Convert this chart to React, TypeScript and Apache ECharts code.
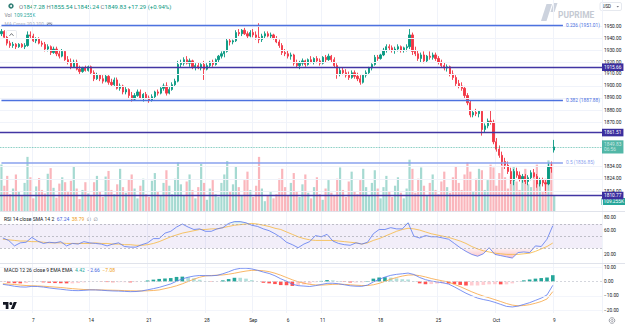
import React, { useEffect, useRef } from 'react';
import * as echarts from 'echarts';

// ---------------- data ----------------
const OPEN = [1944,1946,1941,1936,1934,1935,1933,1935,1933,1934,1943,
1942,1938,1940,1936, 1935,1931,1933,1928, 1931,1927,1925,1929, 1922,1920,1916,1920, 1914,1912,1915,1913,
1916,1911,1906,1909, 1906,1904,1908,1903, 1901,1905,1898,1900, 1895,1897,1892,1889, 1892,1895,1890,1893,
1890,1888,1891,1895, 1894,1898,1900,1894, 1897,1901,1904,1918, 1919,1922,1919,1921, 1916,1917,1915,1918,
1914,1917,1920,1918, 1922,1925,1927,1929, 1938,1937,1938,1945, 1944,1947,1944,1942, 1945,1943,1941,1939,
1942,1944,1942,1943, 1940,1937,1934,1928, 1927,1925,1926,1919, 1917,1919,1921,1918, 1922,1920,1923,1921,
1919,1924,1922,1925, 1922,1917,1910,1913, 1911,1909,1907,1911, 1908,1906,1903,1909, 1911,1915,1918,1924,
1923,1926,1930,1933, 1932,1930,1931,1933, 1930,1932,1933,1943, 1929,1927,1923,1926, 1921,1925,1924,1926,
1923,1920,1917,1915, 1916,1910,1907,1902, 1900,1898,1892,1886, 1876,1878,1877,1879, 1864,1867,1871,1870,
1854,1848,1843,1838, 1835,1830,1823,1830, 1827,1824,1826,1822, 1825,1829,1826,1820, 1823,1821,1820,1834,
1847.28];
const HIGH = [1948,1947,1942,1938,1937,1936,1936,1936,1936,1946,1946,
1944,1941,1941,1938, 1937,1935,1934,1933, 1933,1930,1931,1930, 1925,1923,1922,1922, 1917,1916,1917,1917,
1917,1913,1911,1910, 1909,1910,1909,1906, 1907,1907,1902,1901, 1899,1898,1895,1894, 1897,1897,1894,1895,
1892,1893,1896,1897, 1899,1902,1903,1899, 1903,1906,1921,1922, 1924,1925,1923,1922, 1919,1920,1919,1921,
1919,1921,1922,1923, 1926,1929,1930,1940, 1940,1939,1947,1948, 1948,1949,1946,1947, 1948,1946,1953,1944,
1946,1946,1945,1944, 1942,1939,1936,1931, 1930,1928,1927,1922, 1921,1923,1922,1923, 1925,1924,1925,1923,
1925,1926,1927,1926, 1924,1919,1915,1915, 1914,1912,1913,1913, 1911,1909,1910,1913, 1916,1919,1926,1926,
1927,1932,1935,1935, 1934,1933,1935,1934, 1933,1935,1948,1945, 1933,1930,1928,1929, 1926,1929,1928,1928,
1925,1922,1920,1918, 1917,1913,1909,1905, 1903,1900,1894,1888, 1880,1881,1880,1880, 1869,1873,1880,1872,
1857,1851,1846,1841, 1838,1833,1832,1833, 1830,1828,1828,1827, 1831,1832,1828,1825, 1825,1824,1837,1838,
1855.54];
const LOW = [1942,1940,1934,1932,1932,1931,1932,1932,1931,1933,1940,
1937,1936,1935,1933, 1929,1929,1926,1927, 1925,1923,1924,1921, 1918,1914,1915,1913, 1910,1911,1912,1912,
1910,1904,1905,1904, 1902,1903,1901,1900, 1900,1897,1896,1893, 1893,1890,1887,1888, 1891,1889,1887,1889,
1886,1887,1889,1892, 1893,1896,1892,1893, 1896,1900,1903,1915, 1917,1918,1916,1914, 1913,1914,1913,1905,
1913,1915,1916,1917, 1920,1923,1924,1928, 1934,1935,1937,1942, 1942,1943,1940,1941, 1941,1939,1936,1937,
1940,1941,1940,1939, 1936,1932,1926,1925, 1923,1922,1917,1915, 1914,1917,1916,1917, 1919,1918,1919,1917,
1918,1920,1921,1920, 1915,1906,1908,1909, 1907,1905,1906,1906, 1904,1901,1902,1907, 1910,1913,1917,1921,
1922,1925,1928,1930, 1928,1927,1929,1928, 1928,1929,1931,1926, 1925,1921,1920,1919, 1920,1922,1922,1921,
1918,1915,1913,1912, 1908,1905,1900,1898, 1896,1890,1884,1874, 1874,1875,1874,1859, 1862,1865,1868,1852,
1846,1841,1835,1832, 1828,1820,1819,1825, 1822,1821,1820,1819, 1823,1825,1817,1818, 1818,1813,1819,1829,
1845.24];
const CLOSE = [1946,1941,1936,1934,1935,1933,1935,1933,1934,1943,1942,
1938,1940,1936,1935, 1931,1933,1928,1931, 1927,1925,1929,1922, 1920,1916,1920,1914, 1912,1915,1913,1916,
1911,1906,1909,1906, 1904,1908,1903,1901, 1905,1898,1900,1895, 1897,1892,1889,1892, 1895,1890,1893,1890,
1888,1891,1895,1894, 1898,1900,1894,1897, 1901,1904,1918,1919, 1922,1919,1921,1916, 1917,1915,1918,1914,
1917,1920,1918,1922, 1925,1927,1929,1938, 1937,1938,1945,1944, 1947,1944,1942,1945, 1943,1941,1939,1942,
1944,1942,1943,1940, 1937,1934,1928,1927, 1925,1926,1919,1917, 1919,1921,1918,1922, 1920,1923,1921,1919,
1924,1922,1925,1922, 1917,1910,1913,1911, 1909,1907,1911,1908, 1906,1903,1909,1911, 1915,1918,1924,1923,
1926,1930,1933,1932, 1930,1931,1933,1930, 1932,1933,1943,1929, 1927,1923,1926,1921, 1925,1924,1926,1923,
1920,1917,1915,1916, 1910,1907,1902,1900, 1898,1892,1886,1876, 1878,1877,1879,1864, 1867,1871,1870,1854,
1848,1843,1838,1835, 1830,1823,1830,1827, 1824,1826,1822,1825, 1829,1826,1820,1823, 1821,1820,1834,1832.54,
1849.83];
const VOLUME_K = [330,180,250,120,160,260,140,110,200,385,240,
90,175,235,150, 125,265,305,165, 95,195,240,205, 135,215,315,160, 85,150,205,125,
110,205,250,140, 100,245,285,150, 120,190,300,170, 130,225,260,160, 90,180,230,120,
100,215,270,140, 110,200,290,180, 120,230,345,190, 110,210,260,150, 90,170,335,200,
80,160,220,120, 100,200,260,355, 140,190,320,170, 110,220,280,150, 100,180,385,160,
70,110,140,90, 120,230,300,170, 110,200,270,140, 100,190,260,130, 90,170,240,120,
80,160,220,130, 110,230,310,150, 100,210,280,140, 120,220,300,170, 110,200,290,160,
90,170,250,140, 100,180,240,130, 90,160,365,300, 130,230,310,180, 110,200,260,150,
120,210,280,170, 130,240,320,200, 150,260,345,280, 140,230,300,290, 150,220,330,310,
180,270,355,240, 160,250,320,210, 150,240,300,190, 170,260,330,200, 140,230,360,340,
109.255];
// indicators: one reading per two candles
const RSI = [47,43,34,39,40,48,42,38,40,39, 41,34,38,37,41,39,38,37,34,37,
39,33,32,32,36,39,46,46,55,58, 65,70,65,61,62,58,58,62,64,71,
74,74,72,68,66,62,59,54,48,40, 36,31,37,41,51,49,53,42,38,36,
35,39,37,40,54,61,61,64,62,62, 72,50,47,51,49,49,47,45,38,31,
25,20,17,21,31,20,18,16,14,23, 24,23,34,33,45,67.24];
const RSI_SMA = [45,44,43,42,42,41,41,40,39,39, 39,38,38,38,38,38,39,38,38,37,
37,36,36,35,35,36,38,41,45,49, 52,55,57,59,61,61,62,62,64,66,
68,69,70,71,70,68,66,63,61,57, 53,49,46,44,43,43,43,43,42,41,
40,39,37,39,43,46,50,54,58,61, 63,62,60,57,54,52,50,48,45,42,
38,33,29,26,24,22,21,20,20,20, 21,22,25,29,33,38.79];
const MACD_LINE = [-2.0,-2.6,-3.3,-3.8,-3.9,-3.4,-3.5,-3.9,-4.5,-5.0,
-5.4,-5.9,-6.3,-6.4,-6.2,-5.9,-5.9,-6.1,-6.4,-6.6,
-6.7,-6.9,-7.1,-7.0,-6.6,-5.8,-5.0,-4.1,-2.9,-1.7,
0.2,1.8,3.0,3.8,4.2,4.1,4.0,4.3,5.4,6.8,
8.4,9.2,9.3,8.8,7.8,6.6,5.6,4.0,1.9,0.2,
-1.9,-2.9,-3.2,-3.5,-2.9,-2.1,-1.3,-1.2,-1.6,-2.3,
-3.0,-3.3,-3.4,-2.5,-0.3,1.5,3.1,4.3,5.0,5.4,
5.9,4.9,2.8,1.3,0.3,-0.3,-0.9,-1.8,-3.8,-6.0,
-8.2,-10.0,-11.6,-12.6,-13.4,-14.6,-16.0,-17.4,-17.8,-17.2,
-16.0,-14.8,-13.2,-11.6,-9.4,-2.66];
const SIGNAL_LINE = [-1.6,-1.8,-2.1,-2.5,-2.8,-3.0,-3.1,-3.3,-3.6,-3.9,
-4.2,-4.6,-5.0,-5.3,-5.6,-5.7,-5.8,-5.9,-6.0,-6.1,
-6.2,-6.4,-6.5,-6.6,-6.6,-6.5,-6.3,-5.9,-5.0,-4.1,
-3.0,-1.6,0.0,1.6,3.0,3.9,4.2,4.4,4.6,5.1,
5.8,6.6,7.3,7.8,7.8,7.5,6.9,5.8,4.4,2.8,
1.2,-0.2,-1.2,-2.0,-2.4,-2.5,-2.3,-2.0,-1.9,-2.0,
-2.3,-2.6,-2.8,-2.8,-2.3,-1.3,0.1,1.6,2.8,3.8,
4.5,4.6,4.1,3.2,2.1,1.2,0.4,-0.4,-2.0,-3.6,
-5.4,-7.2,-8.8,-10.2,-11.4,-12.7,-14.0,-15.4,-16.5,-17.0,
-16.8,-16.2,-15.2,-14.0,-12.2,-7.08];

const PRICE_TICKS = [1950, 1940, 1930, 1920, 1910, 1900, 1890, 1880, 1870, 1834, 1824, 1814];
const RSI_TICKS = [80, 60, 20];
const MACD_TICKS = [10, 0, -10, -20];
const DATE_INDEX = [11, 31, 51, 71, 87, 99, 111, 131, 151, 171, 191];
const DATE_LABELS = ['7', '14', '21', '28', 'Sep', '6', '11', '18', '25', 'Oct', '9'];
const FIB_RATIOS = ['0.236', '0.382', '0.5'];
const FIB_PRICES = [1951.01, 1887.88, 1836.85];
const LEVELS = [1915.66, 1861.51, 1810.77];
const COUNTDOWN = '06:56';

// ---------------- layout / style ----------------
const SLOTS = 208;
const IND_SLOTS = 104;
const PLOT_W = 602;
const FIB_END = 194;
const FONT = 'Roboto, "Noto Sans", "DejaVu Sans", sans-serif';
const UP = '#089981';
const DOWN = '#f23645';
const TXT = '#131722';
const GRIDC = '#f0f3fa';
const AX = 4.8;

const minus = (s: string) => s.replace('-', '\u2212');
const f2 = (v: number) => minus(v.toFixed(2));

function boxLabel(text: string, bg: string, color = '#fff') {
  return {
    show: true, position: 'end', formatter: text, backgroundColor: bg, color,
    padding: [1, 2], fontSize: AX, lineHeight: 5.6, distance: 0, fontFamily: FONT,
  };
}

function buildOption() {
  const n = CLOSE.length;
  const last = n - 1;
  const cats = Array.from({ length: SLOTS }, (_, i) => 'c' + i);
  const indCats = Array.from({ length: IND_SLOTS }, (_, i) => 'k' + i);
  const isDate = (i: number) => DATE_INDEX.indexOf(i) >= 0;
  const candle = OPEN.map((o, i) => [o, CLOSE[i], LOW[i], HIGH[i]]);
  const vol = VOLUME_K.map((v, i) => ({
    value: v,
    itemStyle: { color: CLOSE[i] >= OPEN[i] ? 'rgba(8,153,129,0.36)' : 'rgba(242,54,69,0.36)' },
  }));
  const hist = MACD_LINE.map((m, i) => +(m - SIGNAL_LINE[i]).toFixed(2));
  const histData = hist.map((h, i) => {
    const p = i > 0 ? hist[i - 1] : h;
    const c = h >= 0 ? (h > p ? '#26a69a' : '#b2dfdb') : (h < p ? '#ff5252' : '#ffcdd2');
    return { value: h, itemStyle: { color: c } };
  });
  const rl = RSI.length - 1;
  const chg = CLOSE[last] - CLOSE[last - 1];
  const pct = (chg / CLOSE[last - 1]) * 100;
  const sg = chg >= 0 ? '+' : '\u2212';

  const vSplit = { show: true, interval: (i: number) => isDate(i), lineStyle: { color: GRIDC, width: 1 } };

  const fibLines = FIB_PRICES.map((p, j) => {
    const col = j === 2 ? '#8aa2ee' : '#4d72df';
    return [
      {
        coord: [0, p],
        lineStyle: { color: col, width: j === 2 ? 1.7 : 1.3, type: 'solid' },
        label: { show: true, position: 'end', formatter: `${FIB_RATIOS[j]} (${p.toFixed(2)})`, color: col, fontSize: AX, distance: 3, fontFamily: FONT },
      },
      { coord: [FIB_END, p] },
    ];
  });
  const levelLines = LEVELS.map((p) => ({
    yAxis: p,
    lineStyle: { color: '#4235a3', width: 1.4, type: 'solid' },
    label: boxLabel(p.toFixed(2), '#3b2e9e'),
  }));

  const hidden = { show: false };

  return {
    animation: false,
    backgroundColor: '#ffffff',
    textStyle: { fontFamily: FONT },
    grid: [
      { left: 0, top: 0, width: PLOT_W, height: 211.04, outerBoundsMode: 'none' },
      { left: 0, top: 205.8, width: PLOT_W, height: 60.75, outerBoundsMode: 'none' },
      { left: 0, top: 252.9, width: PLOT_W, height: 71.5, outerBoundsMode: 'none' },
      { left: 0, top: 212, width: PLOT_W, height: 51, outerBoundsMode: 'none' },
      { left: 0, top: 264, width: PLOT_W, height: 49, outerBoundsMode: 'none' },
    ],
    xAxis: [
      { gridIndex: 0, type: 'category', data: cats, axisLine: hidden, axisTick: hidden, axisLabel: hidden, splitLine: vSplit },
      { gridIndex: 1, type: 'category', data: indCats, show: false },
      { gridIndex: 2, type: 'category', data: indCats, show: false },
      { gridIndex: 3, type: 'category', data: cats, axisLine: hidden, axisTick: hidden, axisLabel: hidden, splitLine: vSplit },
      {
        gridIndex: 4, type: 'category', data: cats, position: 'bottom', axisLine: hidden, axisTick: hidden, splitLine: vSplit,
        axisLabel: {
          show: true, interval: (i: number) => isDate(i), margin: 5, fontSize: AX, color: TXT, fontFamily: FONT,
          formatter: (_v: string, i: number) => { const j = DATE_INDEX.indexOf(i); return j >= 0 ? DATE_LABELS[j] : ''; },
        },
      },
    ],
    yAxis: [
      { gridIndex: 0, type: 'log', logBase: 10, min: 1798.5, max: 1973, show: false },
      { gridIndex: 0, type: 'value', min: 0, max: 1500, show: false },
      {
        gridIndex: 1, type: 'value', min: 0, max: 100, interval: 20, position: 'right',
        axisLine: hidden, axisTick: hidden, splitLine: hidden,
        axisLabel: { margin: 2, fontSize: AX, color: TXT, fontFamily: FONT, formatter: (v: number) => (RSI_TICKS.indexOf(v) >= 0 ? v.toFixed(2) : '') },
      },
      {
        gridIndex: 2, type: 'value', min: -30, max: 20, interval: 10, position: 'right',
        axisLine: hidden, axisTick: hidden, splitLine: hidden,
        axisLabel: { margin: 2, fontSize: AX, color: TXT, fontFamily: FONT, formatter: (v: number) => (MACD_TICKS.indexOf(v) >= 0 ? f2(v) : '') },
      },
      { gridIndex: 3, type: 'value', show: false },
      { gridIndex: 4, type: 'value', show: false },
    ],
    series: [
      {
        type: 'line', xAxisIndex: 0, yAxisIndex: 0, data: [], z: 0, silent: true,
        markLine: {
          symbol: ['none', 'none'], silent: true, animation: false,
          data: PRICE_TICKS.map((p) => ({
            yAxis: p,
            lineStyle: { color: GRIDC, width: 1, type: 'solid' },
            label: { show: true, position: 'end', formatter: p.toFixed(2), color: TXT, fontSize: AX, distance: 2, fontFamily: FONT },
          })),
        },
      },
      {
        type: 'bar', xAxisIndex: 0, yAxisIndex: 1, data: vol, barWidth: 2.2, z: 1, silent: true,
      },
      {
        type: 'candlestick', xAxisIndex: 0, yAxisIndex: 0, data: candle, barWidth: 1.7, z: 3, silent: true,
        itemStyle: { color: UP, color0: DOWN, borderColor: UP, borderColor0: DOWN, borderWidth: 0.9 },
        markLine: {
          symbol: ['none', 'none'], silent: true, animation: false,
          data: [
            ...fibLines,
            ...levelLines,
            {
              yAxis: CLOSE[last],
              lineStyle: { color: UP, width: 0.8, type: 'dotted', opacity: 0.7 },
              label: boxLabel(`${CLOSE[last].toFixed(2)}\n${COUNTDOWN}`, UP),
            },
          ],
        },
      },
      // RSI pane
      {
        type: 'line', xAxisIndex: 1, yAxisIndex: 2, data: RSI.map((v) => Math.min(v, 30)), symbol: 'none', silent: true, z: 2,
        lineStyle: { width: 0 },
        areaStyle: { origin: 30, color: new echarts.graphic.LinearGradient(0, 0, 0, 1, [
          { offset: 0, color: 'rgba(242,54,69,0.08)' }, { offset: 1, color: 'rgba(242,54,69,0.45)' }]) },
      },
      {
        type: 'line', xAxisIndex: 1, yAxisIndex: 2, data: RSI.map((v) => Math.max(v, 70)), symbol: 'none', silent: true, z: 2,
        lineStyle: { width: 0 },
        areaStyle: { origin: 70, color: new echarts.graphic.LinearGradient(0, 0, 0, 1, [
          { offset: 0, color: 'rgba(8,153,129,0.35)' }, { offset: 1, color: 'rgba(8,153,129,0.05)' }]) },
      },
      {
        type: 'line', xAxisIndex: 1, yAxisIndex: 2, data: RSI_SMA, symbol: 'none', silent: true, z: 3,
        lineStyle: { color: '#f6b73f', width: 0.8 },
        markLine: {
          symbol: ['none', 'none'], silent: true, animation: false,
          data: [{ yAxis: RSI_SMA[RSI_SMA.length - 1], lineStyle: { opacity: 0 }, label: boxLabel(RSI_SMA[RSI_SMA.length - 1].toFixed(2), '#f5b43c', TXT) }],
        },
      },
      {
        type: 'line', xAxisIndex: 1, yAxisIndex: 2, data: RSI, symbol: 'none', silent: true, z: 4,
        lineStyle: { color: '#5a78f0', width: 0.8 },
        markArea: { silent: true, itemStyle: { color: 'rgba(126,87,194,0.1)' }, data: [[{ yAxis: 70 }, { yAxis: 30 }]] },
        markLine: {
          symbol: ['none', 'none'], silent: true, animation: false,
          data: [
            ...[70, 50, 30].map((v) => ({ yAxis: v, lineStyle: { color: '#9a9da6', width: 0.6, type: [2, 2] }, label: { show: false } })),
            { yAxis: RSI[rl], lineStyle: { opacity: 0 }, label: boxLabel(RSI[rl].toFixed(2), '#3d63dd') },
          ],
        },
      },
      // MACD pane
      {
        type: 'bar', xAxisIndex: 2, yAxisIndex: 3, data: histData, barWidth: 3.6, silent: true, z: 2,
        markLine: {
          symbol: ['none', 'none'], silent: true, animation: false,
          data: [
            ...MACD_TICKS.map((v) => ({ yAxis: v, lineStyle: { color: v === 0 ? '#c9ccd4' : GRIDC, width: 0.8, type: v === 0 ? [2, 2] : 'solid' }, label: { show: false } })),
            { yAxis: hist[hist.length - 1], lineStyle: { opacity: 0 }, label: boxLabel(f2(hist[hist.length - 1]), '#26a69a') },
          ],
        },
      },
      {
        type: 'line', xAxisIndex: 2, yAxisIndex: 3, data: SIGNAL_LINE, symbol: 'none', silent: true, z: 3,
        lineStyle: { color: '#f7a440', width: 0.8 },
        markLine: {
          symbol: ['none', 'none'], silent: true, animation: false,
          data: [{ yAxis: SIGNAL_LINE[SIGNAL_LINE.length - 1], lineStyle: { opacity: 0 }, label: boxLabel(f2(SIGNAL_LINE[SIGNAL_LINE.length - 1]), '#f5a33c', TXT) }],
        },
      },
      {
        type: 'line', xAxisIndex: 2, yAxisIndex: 3, data: MACD_LINE, symbol: 'none', silent: true, z: 4,
        lineStyle: { color: '#5a78f0', width: 0.8 },
        markLine: {
          symbol: ['none', 'none'], silent: true, animation: false,
          data: [{ yAxis: MACD_LINE[MACD_LINE.length - 1], lineStyle: { opacity: 0 }, label: boxLabel(f2(MACD_LINE[MACD_LINE.length - 1]), '#3d63dd') }],
        },
      },
    ],
    graphic: [
      { type: 'line', silent: true, shape: { x1: 0, y1: 211.5, x2: 625, y2: 211.5 }, style: { stroke: '#e0e3eb', lineWidth: 1 } },
      { type: 'line', silent: true, shape: { x1: 0, y1: 263.5, x2: 625, y2: 263.5 }, style: { stroke: '#e0e3eb', lineWidth: 1 } },
      // header
      { type: 'circle', silent: true, shape: { cx: 11, cy: 6, r: 2.7 }, style: { fill: '#2f7d74' } },
      { type: 'circle', silent: true, shape: { cx: 11, cy: 6, r: 1 }, style: { fill: '#ffffff' } },
      {
        type: 'text', silent: true, x: 19, y: 6,
        style: {
          text: `{l|O}{v|${OPEN[last].toFixed(2)}} {l|H}{v|${HIGH[last].toFixed(2)}} {l|L}{v|${LOW[last].toFixed(2)}} {l|C}{v|${CLOSE[last].toFixed(2)}} {v|${sg}${Math.abs(chg).toFixed(2)} (${sg}${Math.abs(pct).toFixed(2)}%)}`,
          verticalAlign: 'middle', fontSize: 6, fontFamily: FONT,
          rich: { l: { fill: '#787b86', fontSize: 6, fontFamily: FONT }, v: { fill: UP, fontSize: 6, fontFamily: FONT } },
        },
      },
      {
        type: 'text', silent: true, x: 4.5, y: 15,
        style: {
          text: `{l|Vol}  {v|${VOLUME_K[last].toFixed(3)}K}`, verticalAlign: 'middle', fontSize: 5, fontFamily: FONT,
          rich: { l: { fill: '#787b86', fontSize: 5, fontFamily: FONT }, v: { fill: '#26a69a', fontSize: 5, fontFamily: FONT } },
        },
      },
      { type: 'text', silent: true, x: 4.5, y: 24.5, style: { text: 'MA Cross 200 100', fill: '#b2b5be', fontSize: 4.8, fontFamily: FONT, verticalAlign: 'middle' } },
      { type: 'rect', silent: true, shape: { x: 46.5, y: 22, width: 6, height: 5, r: 1 }, style: { fill: '#d8dbe2' } },
      { type: 'ellipse', silent: true, shape: { cx: 49.5, cy: 24.5, rx: 2, ry: 1.2 }, style: { fill: 'none', stroke: '#50535e', lineWidth: 0.5 } },
      { type: 'rect', silent: true, shape: { x: 6.5, y: 30.5, width: 10, height: 8, r: 1.2 }, style: { fill: '#ffffff', stroke: '#e0e3eb', lineWidth: 0.8 } },
      { type: 'polyline', silent: true, shape: { points: [[9.5, 35.8], [11.5, 33.6], [13.5, 35.8]] }, style: { fill: 'none', stroke: TXT, lineWidth: 0.6 } },
      // watermark
      { type: 'polygon', silent: true, shape: { points: [[541, 21], [546.5, 4], [552, 4], [546.5, 21]] }, style: { fill: '#cdd3de' } },
      { type: 'polygon', silent: true, shape: { points: [[550.5, 12], [553.5, 3], [557.5, 3], [554.5, 12]] }, style: { fill: '#cdd3de' } },
      { type: 'text', silent: true, x: 558, y: 15, style: { text: 'PUPRIME', fill: '#c5cad3', fontSize: 8.4, fontWeight: 'bold', fontFamily: FONT, verticalAlign: 'middle' } },
      // USD switch
      { type: 'rect', silent: true, shape: { x: 600, y: 2.5, width: 21.5, height: 8, r: 1.5 }, style: { fill: '#ffffff', stroke: '#e0e3eb', lineWidth: 0.8 } },
      { type: 'text', silent: true, x: 602.5, y: 6.6, style: { text: 'USD', fill: TXT, fontSize: 4.5, fontFamily: FONT, verticalAlign: 'middle' } },
      { type: 'polygon', silent: true, shape: { points: [[616.5, 6], [619, 6], [617.75, 7.4]] }, style: { fill: '#787b86' } },
      // volume value box
      {
        type: 'text', silent: true, x: 601.5, y: 201.5,
        style: { text: `${VOLUME_K[last].toFixed(3)}K`, fill: '#ffffff', backgroundColor: '#26a69a', padding: [1, 2], fontSize: AX, fontFamily: FONT, verticalAlign: 'middle' },
      },
      // pane titles
      {
        type: 'text', silent: true, x: 4, y: 219,
        style: {
          text: `{t|RSI 14 close SMA 14 2}  {a|${RSI[rl].toFixed(2)}}  {b|${RSI_SMA[RSI_SMA.length - 1].toFixed(2)}}  {g|\u2205}  {g|\u2205}`,
          verticalAlign: 'middle', fontSize: 5, fontFamily: FONT,
          rich: { t: { fill: TXT, fontSize: 5, fontFamily: FONT }, a: { fill: '#3d63dd', fontSize: 5, fontFamily: FONT }, b: { fill: '#f0a020', fontSize: 5, fontFamily: FONT }, g: { fill: '#787b86', fontSize: 5, fontFamily: FONT } },
        },
      },
      {
        type: 'text', silent: true, x: 4, y: 270,
        style: {
          text: `{t|MACD 12 26 close 9 EMA EMA}  {h|${f2(hist[hist.length - 1])}}  {a|${f2(MACD_LINE[MACD_LINE.length - 1])}}  {b|${f2(SIGNAL_LINE[SIGNAL_LINE.length - 1])}}`,
          verticalAlign: 'middle', fontSize: 5, fontFamily: FONT,
          rich: { t: { fill: TXT, fontSize: 5, fontFamily: FONT }, h: { fill: '#26a69a', fontSize: 5, fontFamily: FONT }, a: { fill: '#3d63dd', fontSize: 5, fontFamily: FONT }, b: { fill: '#f0a020', fontSize: 5, fontFamily: FONT } },
        },
      },
      // TradingView mark
      { type: 'tvlogo', silent: true, x: 3, y: 300.5, scaleX: 0.39, scaleY: 0.39, style: { fill: TXT } },
      { type: 'circle', silent: true, shape: { cx: 10.8, cy: 303.6, r: 1.5 }, style: { fill: TXT } },
      // settings
      { type: 'circle', silent: true, shape: { cx: 612, cy: 320.5, r: 2.8 }, style: { fill: 'none', stroke: '#787b86', lineWidth: 0.7 } },
      { type: 'circle', silent: true, shape: { cx: 612, cy: 320.5, r: 1 }, style: { fill: 'none', stroke: '#787b86', lineWidth: 0.6 } },
    ],
  };
}

let registered = false;
function ensureShapes() {
  if (registered) return;
  registered = true;
  const d = 'M14 22H7V11H0V4h14v18zM28 22h-8l7.5-18h8L28 22z';
  echarts.graphic.registerShape('tvlogo', echarts.graphic.extendPath(d, {}) as any);
}

export default function App() {
  const ref = useRef<HTMLDivElement>(null);
  useEffect(() => {
    if (!ref.current) return;
    ensureShapes();
    const chart = echarts.init(ref.current, null, { renderer: 'svg' });
    chart.setOption(buildOption() as any);
    return () => chart.dispose();
  }, []);
  return (
    <div
      ref={ref}
      style={{ position: 'absolute', left: 0, top: 0, width: 625, height: 325, background: '#ffffff' }}
    />
  );
}
